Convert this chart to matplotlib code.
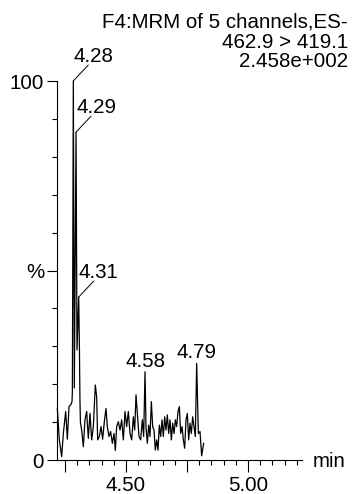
import matplotlib
matplotlib.use("Agg")
import matplotlib.pyplot as plt
from matplotlib.ticker import MultipleLocator, FixedLocator

plt.rcParams['font.family'] = ['Liberation Sans', 'DejaVu Sans']

# Chromatogram trace (time in min, relative intensity %)
times = [4.2184, 4.2266, 4.2361, 4.2430, 4.2525, 4.2594, 4.2662, 4.2730, 4.2785,
         4.2800, 4.2839, 4.2880, 4.2950, 4.2990, 4.3060, 4.3090, 4.3110, 4.3130,
         4.3181, 4.3249, 4.3317, 4.3385, 4.3454, 4.3522, 4.3590, 4.3659, 4.3740,
         4.3795, 4.3836, 4.3904, 4.3973, 4.4041, 4.4109, 4.4178, 4.4232, 4.4301,
         4.4369, 4.4438, 4.4506, 4.4561, 4.4615, 4.4684, 4.4752, 4.4820, 4.4889,
         4.4957, 4.5025, 4.5093, 4.5162, 4.5230, 4.5298, 4.5353, 4.5408, 4.5462,
         4.5531, 4.5599, 4.5667, 4.5722, 4.5777, 4.5817, 4.5872, 4.5927, 4.5981,
         4.6036, 4.6091, 4.6145, 4.6200, 4.6255, 4.6309, 4.6364, 4.6419, 4.6473,
         4.6528, 4.6583, 4.6637, 4.6692, 4.6746, 4.6801, 4.6856, 4.6910, 4.6965,
         4.7020, 4.7074, 4.7129, 4.7184, 4.7238, 4.7293, 4.7348, 4.7402, 4.7457,
         4.7511, 4.7566, 4.7621, 4.7675, 4.7730, 4.7785, 4.7839, 4.7894, 4.7962,
         4.8030, 4.8098, 4.8180]
intensity = [13.6, 5.3, 0.9, 7.0, 12.8, 5.5, 14.1, 14.5, 15.4,
             18.0, 100.0, 19.0, 86.5, 29.0, 43.0, 29.0, 16.0, 9.9,
             7.9, 3.5, 10.6, 12.8, 5.7, 12.3, 5.3, 8.8, 19.8,
             16.7, 5.3, 6.2, 8.8, 5.5, 10.1, 13.6, 8.8, 6.2,
             7.5, 4.4, 7.0, 2.5, 8.8, 10.1, 7.9, 10.6, 5.3,
             12.8, 8.8, 12.8, 7.0, 5.3, 11.4, 7.9, 17.2, 12.3,
             6.2, 5.3, 10.6, 6.2, 23.3, 8.8, 4.4, 9.2, 6.2,
             15.4, 8.8, 7.9, 2.6, 5.3, 2.6, 9.2, 6.2, 10.6,
             6.2, 11.4, 7.9, 11.9, 7.0, 10.6, 5.3, 9.7, 7.0,
             10.6, 8.8, 12.8, 14.1, 7.0, 8.8, 5.3, 3.1, 10.6,
             12.3, 5.3, 9.7, 7.0, 11.4, 8.8, 6.2, 25.5, 7.0,
             7.5, 1.1, 4.4]

# Peak labels: label text, peak time, peak intensity, leader line?
peak_labels = ["4.28", "4.29", "4.31", "4.58", "4.79"]
peak_times = [4.2839, 4.2950, 4.3060, 4.5777, 4.7894]
peak_values = [100.0, 86.5, 43.0, 23.3, 25.5]
peak_leader = [True, True, True, False, False]

header_lines = ["F4:MRM of 5 channels,ES-", "462.9 > 419.1", "2.458e+002"]

x_major = [4.25, 4.50, 4.75, 5.00]
x_major_labels = ["", "4.50", "", "5.00"]
y_major = [0, 50, 100]
y_major_labels = ["0", "%", "100"]

FS = 14.8
W, H = 353, 494
fig = plt.figure(figsize=(W / 100, H / 100), dpi=100)
ax = fig.add_axes([57 / W, 34 / H, 245 / W, 379 / H])

ax.plot(times, intensity, color='black', lw=0.9, clip_on=False)

ax.set_xlim(4.217, 5.221)
ax.set_ylim(0, 100)
for s in ['top', 'right']:
    ax.spines[s].set_visible(False)
for s in ['left', 'bottom']:
    ax.spines[s].set_linewidth(0.8)

ax.xaxis.set_major_locator(FixedLocator(x_major))
ax.set_xticklabels(x_major_labels)
ax.xaxis.set_minor_locator(MultipleLocator(0.05))
ax.yaxis.set_major_locator(FixedLocator(y_major))
ax.set_yticklabels(y_major_labels)
ax.yaxis.set_minor_locator(MultipleLocator(10))

ax.tick_params(axis='x', which='major', direction='out', length=8.6, width=0.8,
               pad=3.0, labelsize=FS)
ax.tick_params(axis='x', which='minor', direction='out', length=3.6, width=0.8)
ax.tick_params(axis='y', which='major', direction='out', length=7.2, width=0.8,
               pad=2.0, labelsize=FS)
ax.tick_params(axis='y', which='minor', direction='out', length=3.6, width=0.8)

for lab, t, v, lead in zip(peak_labels, peak_times, peak_values, peak_leader):
    if lead:
        ax.annotate('', xy=(t, v), xytext=(15, 16), textcoords='offset pixels',
                    arrowprops=dict(arrowstyle='-', lw=0.7, color='black',
                                    shrinkA=0, shrinkB=0), annotation_clip=False)
        ax.annotate(lab, xy=(t, v), xytext=(20, 19), textcoords='offset pixels',
                    ha='center', va='baseline', fontsize=FS, annotation_clip=False)
    else:
        ax.annotate(lab, xy=(t, v), xytext=(0, 5), textcoords='offset pixels',
                    ha='center', va='baseline', fontsize=FS, annotation_clip=False)

baselines = [28, 47.5, 67]
for line, b in zip(header_lines, baselines):
    fig.text(348 / W, 1 - b / H, line, ha='right', va='baseline', fontsize=FS)

fig.text(313 / W, 1 - 461 / H, "min", ha='left', va='center', fontsize=FS)

fig.savefig("out.png", dpi=100)
